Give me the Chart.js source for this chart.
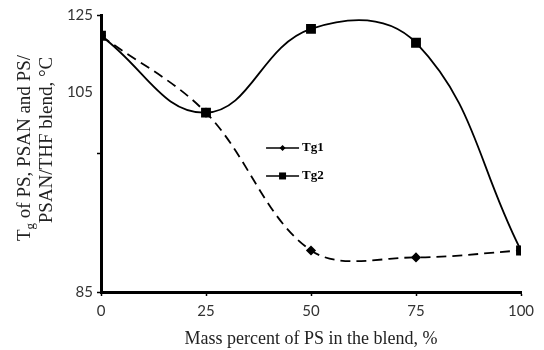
<!DOCTYPE html>
<html>
<head>
<meta charset="utf-8">
<script src="https://cdn.jsdelivr.net/npm/chart.js@4.4.1/dist/chart.umd.min.js"></script>
<style>
  html, body { margin: 0; padding: 0; background: #fff; }
  #wrap { width: 544px; height: 350px; }
</style>
</head>
<body>
<div id="wrap"><canvas id="tgChart" width="544" height="350"></canvas></div>
<script>
// data
const massPercent = [0, 25, 50, 75, 100];
const tg1 = [122, 110.9, 91, 90, 91];
const tg2 = [122, 110.9, 123, 121, 91];
const seriesNames = ["Tg1", "Tg2"];
const xTicks = [0, 25, 50, 75, 100];
const yTicks = [85, 105, 125];
const xTitle = "Mass percent of PS in the blend, %";
const yTitleLines = [["T", "g", " of PS, PSAN and PS/"], ["PSAN/THF blend, °C"]];

// the original figure prints "105" well above its tick mark; keep that quirk
const y105LabelAt = 113.8;

const serif = '"Liberation Serif", "Times New Roman", serif';
const sans = 'Lato, "Liberation Sans", sans-serif';

const yTitlePlugin = {
  id: "yTitle",
  afterDraw(chart) {
    const { ctx } = chart;
    const centers = [148, 140];
    ctx.save();
    ctx.fillStyle = "#222";
    ctx.textBaseline = "middle";
    const big = "19px " + serif, small = "13px " + serif;
    yTitleLines.forEach((parts, li) => {
      ctx.save();
      ctx.translate(25 + li * 22, centers[li]);
      ctx.rotate(-Math.PI / 2);
      const fonts = parts.length === 3 ? [big, small, big] : [big];
      const widths = parts.map((p, k) => { ctx.font = fonts[k]; return ctx.measureText(p).width; });
      let x = -widths.reduce((a, b) => a + b, 0) / 2;
      parts.forEach((p, k) => {
        ctx.font = fonts[k];
        ctx.fillText(p, x, fonts[k] === small ? 6 : 0);
        x += widths[k];
      });
      ctx.restore();
    });
    ctx.restore();
  }
};

const innerLegend = {
  id: "innerLegend",
  afterDraw(chart) {
    const { ctx, chartArea } = chart;
    const x0 = chartArea.left + 0.393 * (chartArea.right - chartArea.left);
    const y0 = chartArea.top + 0.48 * (chartArea.bottom - chartArea.top);
    ctx.save();
    chart.data.datasets.forEach((ds, i) => {
      const y = y0 + i * 28;
      ctx.strokeStyle = "#000";
      ctx.fillStyle = "#000";
      ctx.lineWidth = 1.6;
      ctx.beginPath();
      ctx.moveTo(x0, y);
      ctx.lineTo(x0 + 33, y);
      ctx.stroke();
      const mx = x0 + 16.5;
      ctx.beginPath();
      if (ds.pointStyle === "rect") {
        ctx.rect(mx - 3.5, y - 3.5, 7, 7);
      } else {
        ctx.moveTo(mx - 3, y); ctx.lineTo(mx, y - 3); ctx.lineTo(mx + 3, y); ctx.lineTo(mx, y + 3);
        ctx.closePath();
      }
      ctx.fill();
      ctx.font = "bold 13px " + serif;
      ctx.textBaseline = "middle";
      ctx.fillText(ds.label, x0 + 36, y);
    });
    ctx.restore();
  }
};

new Chart(document.getElementById("tgChart"), {
  type: "line",
  data: {
    datasets: [
      {
        label: seriesNames[0],
        data: massPercent.map((m, i) => ({ x: m, y: tg1[i] })),
        borderColor: "#000",
        backgroundColor: "#000",
        borderWidth: 1.8,
        borderDash: [10, 6],
        pointStyle: "rectRot",
        pointRadius: 3.8,
        tension: 0.35
      },
      {
        label: seriesNames[1],
        data: massPercent.map((m, i) => ({ x: m, y: tg2[i] })),
        borderColor: "#000",
        backgroundColor: "#000",
        borderWidth: 1.8,
        pointStyle: "rect",
        pointRadius: 5.7,
        tension: 0.42
      }
    ]
  },
  options: {
    responsive: false,
    animation: false,
    devicePixelRatio: 1,
    layout: { padding: { top: 15, right: 23, left: 0, bottom: 0 } },
    plugins: { legend: { display: false }, tooltip: { enabled: false } },
    scales: {
      x: {
        type: "linear",
        min: 0,
        max: 100,
        afterBuildTicks: s => { s.ticks = xTicks.map(v => ({ value: v })); },
        afterFit: s => { s.height = 58; },
        border: { color: "#000", width: 3 },
        grid: { drawOnChartArea: false, color: "#000", tickLength: 4, tickWidth: 1.5 },
        ticks: { color: "#333", font: { family: sans, size: 15 }, padding: 6, maxRotation: 0 },
        title: { display: true, text: xTitle, color: "#222", font: { family: serif, size: 18 }, padding: { top: 2, bottom: 0 } }
      },
      y: {
        min: 85,
        max: 125,
        afterBuildTicks: s => { s.ticks = yTicks.concat([y105LabelAt]).map(v => ({ value: v })); },
        afterFit: s => { s.width = 101; },
        border: { color: "#000", width: 3 },
        grid: {
          drawOnChartArea: false,
          tickLength: 4,
          tickWidth: 1.5,
          tickColor: c => (c.tick && c.tick.value === y105LabelAt ? "rgba(0,0,0,0)" : "#000")
        },
        ticks: {
          color: "#333",
          font: { family: sans, size: 15 },
          padding: 4,
          callback: v => (v === y105LabelAt ? "105" : v === 105 ? "" : String(v))
        }
      }
    }
  },
  plugins: [yTitlePlugin, innerLegend]
});
</script>
</body>
</html>
